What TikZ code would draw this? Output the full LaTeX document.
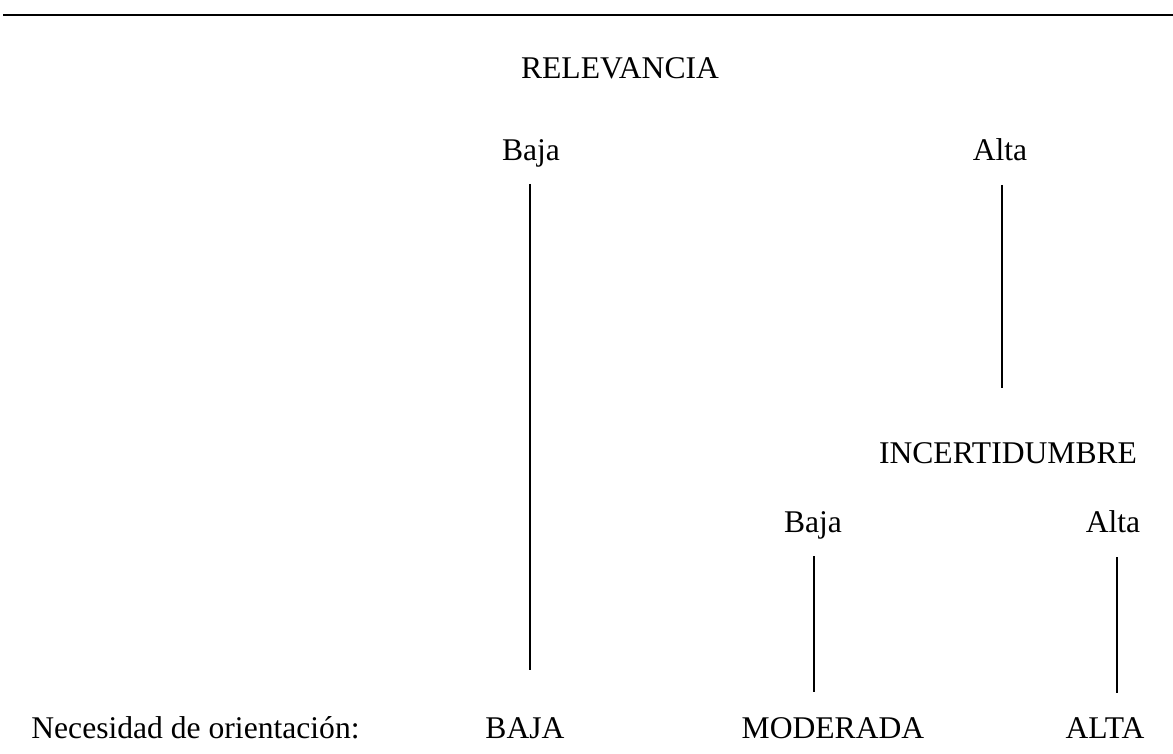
\documentclass[tikz,border=0pt]{standalone}
\usepackage{fontspec}
\setmainfont{Liberation Serif}
\begin{document}
\begin{tikzpicture}[x=0.5pt,y=-0.5pt,
  lbl/.style={inner sep=0pt, anchor=base, font=\fontsize{15.8}{19}\selectfont},
  conn/.style={line width=0.8pt},
  rule/.style={line width=1pt}]
\useasboundingbox (0,0) rectangle (1173,754);
% top rule
\coordinate (ruleL) at (3,15);
\coordinate (ruleR) at (1173,15);
\draw[rule] (ruleL) -- (ruleR);
% labels
\node[lbl] (rel) at (620,79) {RELEVANCIA};
\node[lbl] (relBaja) at (531,161) {Baja};
\node[lbl] (relAlta) at (1000,161) {Alta};
\node[lbl] (inc) at (1008,463) {INCERTIDUMBRE};
\node[lbl] (incBaja) at (813,532) {Baja};
\node[lbl] (incAlta) at (1113,532) {Alta};
\node[lbl, anchor=base west] (nec) at (31,738) {Necesidad de orientación:};
\node[lbl] (baja) at (525,738) {BAJA};
\node[lbl] (mod) at (833,738) {MODERADA};
\node[lbl] (alta) at (1105,738) {ALTA};
% connectors
\coordinate (c1a) at (530,184);
\coordinate (c1b) at (530,670);
\coordinate (c2a) at (1002,185);
\coordinate (c2b) at (1002,388);
\coordinate (c3a) at (814,556);
\coordinate (c3b) at (814,692);
\coordinate (c4a) at (1117,557);
\coordinate (c4b) at (1117,693);
\draw[conn] (c1a) -- (c1b);
\draw[conn] (c2a) -- (c2b);
\draw[conn] (c3a) -- (c3b);
\draw[conn] (c4a) -- (c4b);
\end{tikzpicture}
\end{document}
